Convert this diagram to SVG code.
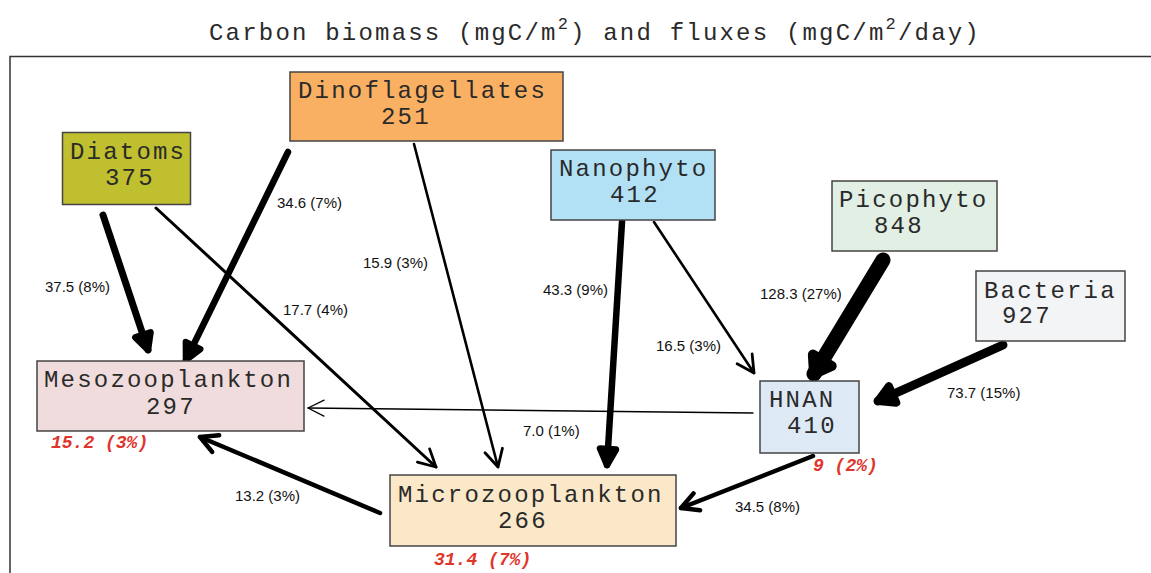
<svg xmlns="http://www.w3.org/2000/svg" width="1151" height="573" viewBox="0 0 1151 573">
<style>
.box{stroke:#444;stroke-width:1.5}
.nt{font-family:"Liberation Mono","Courier New",monospace;font-size:24px;letter-spacing:2.2px;fill:#2a2a2a}
.red{font-family:"Liberation Mono","Courier New",monospace;font-size:18px;font-weight:bold;font-style:italic;fill:#e0352b}
.fl{font-family:"Liberation Sans",Arial,sans-serif;font-size:15px;fill:#111}
.c{fill:none;stroke:#000;stroke-linecap:round}
</style>
<defs>
<marker id="h1" markerUnits="userSpaceOnUse" orient="auto" overflow="visible" refX="0" refY="0"><path d="M-16,-8 L0,0 L-16,8" fill="none" stroke="#000" stroke-width="1.3" stroke-linecap="round" stroke-linejoin="round"/></marker>
<marker id="h2" markerUnits="userSpaceOnUse" orient="auto" overflow="visible" refX="0" refY="0"><path d="M-17,-9 L0,0 L-17,9" fill="none" stroke="#000" stroke-width="2.8" stroke-linecap="round" stroke-linejoin="round"/></marker>
<marker id="h4" markerUnits="userSpaceOnUse" orient="auto" overflow="visible" refX="0" refY="0"><path d="M-17,-9 L0,0 L-17,9" fill="none" stroke="#000" stroke-width="4.5" stroke-linecap="round" stroke-linejoin="round"/></marker>
<marker id="h7" markerUnits="userSpaceOnUse" orient="auto" overflow="visible" refX="0" refY="0"><path d="M-16,-8 L0,0 L-16,8 Z" fill="#000" stroke="#000" stroke-width="6.5" stroke-linecap="round" stroke-linejoin="round"/></marker>
<marker id="h9" markerUnits="userSpaceOnUse" orient="auto" overflow="visible" refX="0" refY="0"><path d="M-16,-9 L0,0 L-16,9 Z" fill="#000" stroke="#000" stroke-width="8" stroke-linecap="round" stroke-linejoin="round"/></marker>
<marker id="h15" markerUnits="userSpaceOnUse" orient="auto" overflow="visible" refX="0" refY="0"><path d="M-16,-11 L0,0 L-16,11 Z" fill="#000" stroke="#000" stroke-width="10" stroke-linecap="round" stroke-linejoin="round"/></marker>
</defs>
<rect width="1151" height="573" fill="#fff"/>
<text id="title" class="nt" x="209" y="40">Carbon biomass (mgC/m<tspan font-size="17" dy="-11">2</tspan><tspan dy="11">) and fluxes (mgC/m</tspan><tspan font-size="17" dy="-11">2</tspan><tspan dy="11">/day)</tspan></text>
<path id="frame" d="M10,580 L10,56.5 L1160,56.5" fill="none" stroke="#333" stroke-width="1.5"/>
<g id="connectors">
<line class="c" x1="103" y1="215" x2="148" y2="350" stroke-width="7" marker-end="url(#h7)"/>
<line class="c" x1="288" y1="152" x2="186" y2="360" stroke-width="6.5" marker-end="url(#h7)"/>
<line class="c" x1="156" y1="208" x2="436" y2="467" stroke-width="3" marker-end="url(#h2)"/>
<line class="c" x1="414" y1="144" x2="498" y2="467" stroke-width="2.6" marker-end="url(#h2)"/>
<line class="c" x1="622" y1="222" x2="607" y2="465" stroke-width="6.5" marker-end="url(#h7)"/>
<line class="c" x1="654" y1="222" x2="754" y2="373" stroke-width="2.6" marker-end="url(#h2)"/>
<line class="c" x1="883" y1="260" x2="814" y2="374" stroke-width="15" marker-end="url(#h15)"/>
<line class="c" x1="1003" y1="345" x2="878" y2="401" stroke-width="9" marker-end="url(#h9)"/>
<line class="c" x1="753" y1="413" x2="308" y2="408" stroke-width="1.3" marker-end="url(#h1)"/>
<line class="c" x1="380" y1="513" x2="200" y2="437" stroke-width="4.5" marker-end="url(#h4)"/>
<line class="c" x1="813" y1="456" x2="681" y2="508" stroke-width="4.5" marker-end="url(#h4)"/>
</g>
<g id="flux-labels">
<text class="fl" x="45" y="292">37.5 (8%)</text>
<text class="fl" x="277" y="208">34.6 (7%)</text>
<text class="fl" x="363" y="268">15.9 (3%)</text>
<text class="fl" x="283" y="315">17.7 (4%)</text>
<text class="fl" x="543" y="295">43.3 (9%)</text>
<text class="fl" x="656" y="351">16.5 (3%)</text>
<text class="fl" x="760" y="299">128.3 (27%)</text>
<text class="fl" x="947" y="398">73.7 (15%)</text>
<text class="fl" x="523" y="436">7.0 (1%)</text>
<text class="fl" x="235" y="501">13.2 (3%)</text>
<text class="fl" x="735" y="512">34.5 (8%)</text>
</g>
<g id="dinoflagellates"><rect class="box" x="290" y="72" width="273" height="69" fill="#f9b063"/><text class="nt" x="298" y="98">Dinoflagellates</text><text class="nt" x="381" y="124">251</text></g>
<g id="diatoms"><rect class="box" x="62.5" y="132.5" width="128" height="72" fill="#bfbf2f"/><text class="nt" x="70" y="159">Diatoms</text><text class="nt" x="105" y="185">375</text></g>
<g id="nanophyto"><rect class="box" x="551" y="150" width="164" height="70" fill="#b2e1f5"/><text class="nt" x="559" y="176">Nanophyto</text><text class="nt" x="610" y="202">412</text></g>
<g id="picophyto"><rect class="box" x="832" y="181" width="165" height="70" fill="#e1efe4"/><text class="nt" x="839" y="207">Picophyto</text><text class="nt" x="874" y="233">848</text></g>
<g id="bacteria"><rect class="box" x="976" y="271" width="149" height="70" fill="#f3f4f6"/><text class="nt" x="984" y="298">Bacteria</text><text class="nt" x="1002" y="323">927</text></g>
<g id="hnan"><rect class="box" x="760" y="381" width="99" height="72" fill="#dde9f5"/><text class="nt" x="769" y="407">HNAN</text><text class="nt" x="787" y="433">410</text><text class="red" x="813" y="471">9 (2%)</text></g>
<g id="mesozooplankton"><rect class="box" x="37" y="361" width="267" height="70" fill="#f0dcdc"/><text class="nt" x="44" y="387">Mesozooplankton</text><text class="nt" x="146" y="414">297</text><text class="red" x="51" y="448">15.2 (3%)</text></g>
<g id="microzooplankton"><rect class="box" x="390" y="475" width="286" height="71" fill="#fbe8c8"/><text class="nt" x="398" y="502">Microzooplankton</text><text class="nt" x="498" y="528">266</text><text class="red" x="434" y="565">31.4 (7%)</text></g>
</svg>
